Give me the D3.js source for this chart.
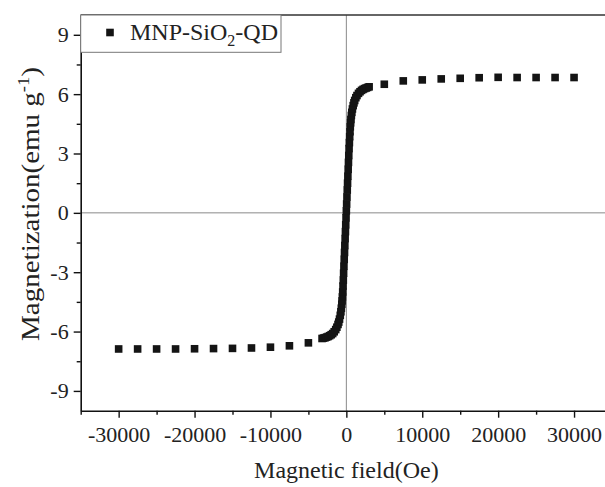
<!DOCTYPE html>
<html><head><meta charset="utf-8">
<script src="https://cdn.jsdelivr.net/npm/d3@7"></script>
<style>
html,body{margin:0;padding:0;background:#fff;}
svg{display:block;}
text{font-family:"Liberation Serif","Times New Roman",serif;fill:#222;}
</style></head>
<body><svg id="c" width="605" height="487"></svg>
<script>
// Magnetic field (Oe)
const fieldOe = [-30000,-27500,-25000,-22500,-20000,-17500,-15000,-12500,-10000,-7500,-5000,
 -3200,-3000,-2800,-2600,-2400,-2200,-2000,-1800,-1600,-1400,-1250,-1100,-1000,-900,-800,-720,-660,-600,
 -560,-520,-480,-440,-400,-360,-320,-280,-240,-200,-160,-120,-80,-40,
 0,40,80,120,160,200,240,280,320,360,400,440,480,520,560,
 600,660,720,800,900,1000,1100,1250,1400,1600,1800,2000,2200,2400,2600,2800,3000,
 5000,7500,10000,12500,15000,17500,20000,22500,25000,27500,30000];
// Magnetization (emu g^-1)
const magnetization = [-6.88,-6.88,-6.88,-6.88,-6.87,-6.86,-6.85,-6.83,-6.79,-6.72,-6.57,
 -6.35,-6.33,-6.31,-6.28,-6.25,-6.21,-6.16,-6.10,-6.01,-5.90,-5.78,-5.64,-5.52,-5.37,-5.18,-5.00,-4.82,-4.62,
 -4.45,-4.25,-4.00,-3.70,-3.40,-3.05,-2.70,-2.35,-2.00,-1.65,-1.30,-0.95,-0.60,-0.25,
 0.10,0.45,0.80,1.15,1.50,1.85,2.20,2.55,2.90,3.25,3.55,3.85,4.10,4.35,4.55,
 4.72,4.92,5.08,5.25,5.42,5.56,5.68,5.82,5.93,6.04,6.12,6.19,6.24,6.28,6.31,6.34,6.37,
 6.50,6.67,6.72,6.77,6.80,6.83,6.85,6.84,6.84,6.84,6.84];
const xMajorTicks = [-30000,-20000,-10000,0,10000,20000,30000];
const xMinorTicks = [-35000,-25000,-15000,-5000,5000,15000,25000];
const yMajorTicks = [-9,-6,-3,0,3,6,9];
const yMinorTicks = [-7.5,-4.5,-1.5,1.5,4.5,7.5];
const seriesName = ["MNP-SiO", "2", "-QD"];

const svg = d3.select("#c");
const L = 80.7, R = 612, T = 15, B = 410.7;
const x = d3.scaleLinear().domain([-35000,35000]).range([L,R]);
const y = d3.scaleLinear().domain([-10,10]).range([B,T]);

// zero lines
svg.append("line").attr("x1",x(0)).attr("x2",x(0)).attr("y1",T).attr("y2",B)
  .attr("stroke","#8a8a8a").attr("stroke-width",1);
svg.append("line").attr("x1",L).attr("x2",R).attr("y1",y(0)).attr("y2",y(0))
  .attr("stroke","#8a8a8a").attr("stroke-width",1);

// data
const pts = fieldOe.map((h,i)=>({h, m: magnetization[i]}));
const s = 7.6;
svg.append("g").selectAll("rect").data(pts).join("rect")
  .attr("x",d=>x(d.h)-s/2).attr("y",d=>y(d.m)-s/2)
  .attr("width",s).attr("height",s).attr("fill","#141414");

// frame top
svg.append("line").attr("x1",L).attr("x2",R).attr("y1",T).attr("y2",T)
  .attr("stroke","#333").attr("stroke-width",1.6);

function styleAxis(g){
  g.select(".domain").attr("stroke","#111").attr("stroke-width",1.6);
  g.selectAll(".tick line").attr("stroke","#111").attr("stroke-width",1.4);
  g.selectAll(".tick text").attr("font-family","Liberation Serif, serif").attr("font-size",22).attr("fill","#222");
}
// x axis
const gxm = svg.append("g").attr("transform",`translate(0,${B})`)
  .call(d3.axisBottom(x).tickValues(xMinorTicks).tickSize(4).tickFormat(""));
gxm.select(".domain").remove();
gxm.selectAll(".tick line").attr("stroke","#111").attr("stroke-width",1.4);
const gx = svg.append("g").attr("transform",`translate(0,${B})`)
  .call(d3.axisBottom(x).tickValues(xMajorTicks).tickSize(7).tickSizeOuter(0).tickPadding(5).tickFormat(d=>String(d)));
styleAxis(gx);
gx.selectAll(".tick text").attr("dy","0.9em");

// y axis
const gym = svg.append("g").attr("transform",`translate(${L},0)`)
  .call(d3.axisLeft(y).tickValues(yMinorTicks).tickSize(4).tickFormat(""));
gym.select(".domain").remove();
gym.selectAll(".tick line").attr("stroke","#111").attr("stroke-width",1.4);
const gy = svg.append("g").attr("transform",`translate(${L},0)`)
  .call(d3.axisLeft(y).tickValues(yMajorTicks).tickSize(7).tickSizeOuter(0).tickPadding(5).tickFormat(d=>String(d)));
styleAxis(gy);

// axis titles
svg.append("text").attr("x",x(0)).attr("y",478).attr("text-anchor","middle")
  .attr("font-size",24).text("Magnetic field(Oe)");
const yt = svg.append("text").attr("transform",`translate(39,204) rotate(-90) scale(1.16,1)`)
  .attr("text-anchor","middle").attr("font-size",25);
yt.append("tspan").text("Magnetization(emu g");
yt.append("tspan").attr("font-size",16).attr("dy",-10).text("-1");
yt.append("tspan").attr("dy",10).text(")");

// legend
svg.append("rect").attr("x",L).attr("y",T).attr("width",281-L).attr("height",52.3-T)
  .attr("fill","#fff").attr("stroke","#777").attr("stroke-width",1);
svg.append("rect").attr("x",110-s/2).attr("y",32.5-s/2).attr("width",s).attr("height",s).attr("fill","#141414");
const lt = svg.append("text").attr("x",130).attr("y",39.5).attr("font-size",24);
lt.append("tspan").text(seriesName[0]);
lt.append("tspan").attr("font-size",16).attr("dy",6).text(seriesName[1]);
lt.append("tspan").attr("dy",-6).text(seriesName[2]);
</script></body></html>
